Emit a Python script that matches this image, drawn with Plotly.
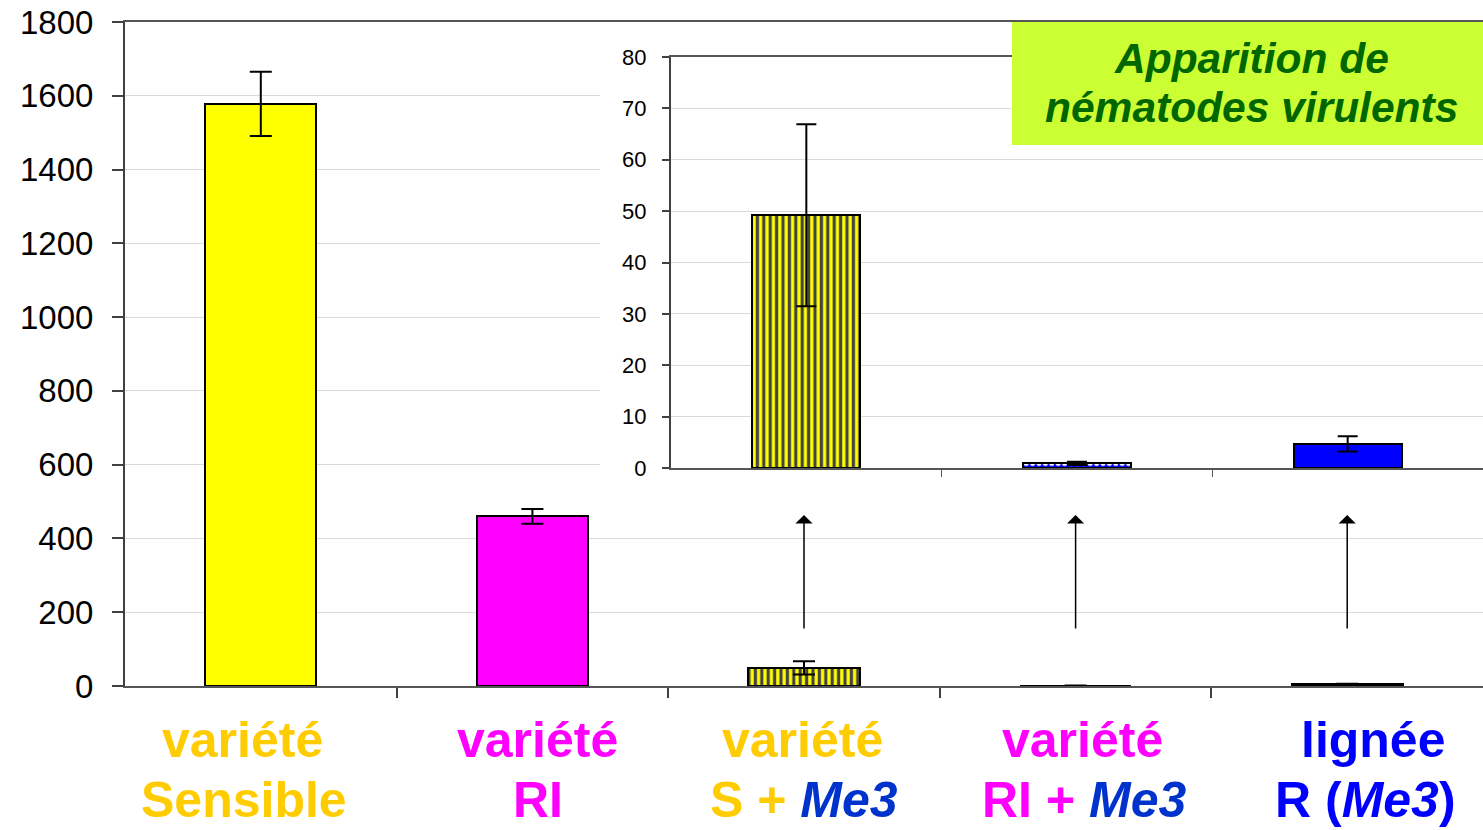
import plotly.graph_objects as go

# ---- data ----
categories = ["variété Sensible", "variété RI", "variété S + Me3", "variété RI + Me3", "lignée R (Me3)"]
values = [1578, 460, 49.2, 0.9, 4.7]
errors = [87, 20, 17.7, 0.3, 1.5]
inset_idx = [2, 3, 4]
main_ticks = [0, 200, 400, 600, 800, 1000, 1200, 1400, 1600, 1800]
inset_ticks = [0, 10, 20, 30, 40, 50, 60, 70, 80]
box_lines = ["Apparition de", "nématodes virulents"]

YEL, MAG, BLU, ME3 = "#ffcc00", "#ff00ff", "#0000ff", "#0033cc"
label_line1 = [
    f"<span style='color:{YEL}'>variété</span>",
    f"<span style='color:{MAG}'>variété</span>",
    f"<span style='color:{YEL}'>variété</span>",
    f"<span style='color:{MAG}'>variété</span>",
    f"<span style='color:{BLU}'>lignée</span>",
]
label_line2 = [
    f"<span style='color:{YEL}'>Sensible</span>",
    f"<span style='color:{MAG}'>RI</span>",
    f"<span style='color:{YEL}'>S + </span><span style='color:{ME3}'><i>Me3</i></span>",
    f"<span style='color:{MAG}'>RI + </span><span style='color:{ME3}'><i>Me3</i></span>",
    f"<span style='color:{BLU}'>R (<i>Me3</i>)</span>",
]
shift1 = [-18, 5, -2, 7, 26]
shift2 = [-17, 6, 0, 8, 18]

bar_color = ["#ffff00", "#ff00ff", "#ffff00", "#0000ff", "#0000ff"]
bar_fg = ["#000000", "#000000", "#0000ff", "#ff00ff", "#000000"]
bar_shape = ["", "", "|", ".", ""]

xs = list(range(len(categories)))

# body margin is removed in the page (post_script), so the figure fills the window
W, H = 1483, 830
L, R, T, B = 125, 0, 22, 144
pw, ph = W - L - R, H - T - B
XMIN, XMAX = -0.5, 4.5
YMAX = 1800

def px(x):
    return (x - L) / pw

def py(y):
    return (H - B - y) / ph

fig = go.Figure()

# white backdrop behind the inset (hides main gridlines there)
bx0 = XMIN + px(600) * (XMAX - XMIN)
by0, by1 = py(482) * YMAX, py(36) * YMAX
fig.add_trace(go.Scatter(
    x=[bx0, XMAX, XMAX, bx0, bx0], y=[by0, by0, by1, by1, by0],
    fill="toself", fillcolor="white", mode="none", line=dict(width=0),
    xaxis="x", yaxis="y", showlegend=False, hoverinfo="skip",
))

pat_size, pat_sol = 6.4, 0.5

# main bars
fig.add_trace(go.Bar(
    x=xs, y=values, width=0.41,
    marker=dict(color=bar_color, line=dict(color="black", width=2),
                pattern=dict(shape=bar_shape, fgcolor=bar_fg, bgcolor=bar_color,
                             size=pat_size, solidity=pat_sol, fgopacity=1)),
    error_y=dict(type="data", array=errors, color="black", thickness=2, width=11),
    xaxis="x", yaxis="y", showlegend=False, hoverinfo="skip",
))

# inset bars
fig.add_trace(go.Bar(
    x=[xs[i] for i in inset_idx], y=[values[i] for i in inset_idx], width=0.40,
    marker=dict(color=[bar_color[i] for i in inset_idx], line=dict(color="black", width=2),
                pattern=dict(shape=[bar_shape[i] for i in inset_idx],
                             fgcolor=[bar_fg[i] for i in inset_idx],
                             bgcolor=[bar_color[i] for i in inset_idx],
                             size=pat_size, solidity=pat_sol, fgopacity=1)),
    error_y=dict(type="data", array=[errors[i] for i in inset_idx], color="black", thickness=2, width=10),
    xaxis="x2", yaxis="y2", showlegend=False, hoverinfo="skip",
))

annotations = []
for i in xs:
    for txt, yy, sh in ((label_line1[i], 740, shift1[i]), (label_line2[i], 800, shift2[i])):
        annotations.append(dict(
            x=xs[i], xref="x", y=py(yy), yref="paper", text=f"<b>{txt}</b>",
            showarrow=False, xshift=sh, xanchor="center", yanchor="middle",
            font=dict(family="Liberation Sans", size=50), align="center",
        ))
for i in inset_idx:
    annotations.append(dict(
        x=xs[i], xref="x", y=py(515), yref="paper", text="",
        showarrow=True, ax=0, ay=115, arrowhead=1, arrowsize=1.9, arrowwidth=1.5,
        arrowcolor="black", standoff=0,
    ))
for txt, yy in zip(box_lines, (58, 108)):
    annotations.append(dict(
        x=px(1251), xref="paper", y=py(yy), yref="paper", xanchor="center", yanchor="middle",
        text=f"<b><i>{txt}</i></b>", showarrow=False,
        font=dict(family="Liberation Sans", size=42.5, color="#006600"), align="center",
    ))

shapes = [
    dict(type="rect", xref="paper", yref="paper", x0=px(1012), x1=1.0,
         y0=py(145), y1=py(22), fillcolor="#ccff33", line=dict(width=0), layer="above"),
]

fig.update_layout(
    width=W, height=H, margin=dict(l=L, r=R, t=T, b=B, autoexpand=False),
    paper_bgcolor="white", plot_bgcolor="white",
    bargap=0, showlegend=False,
    font=dict(family="Liberation Sans", color="black"),
    xaxis=dict(domain=[0, 1], range=[XMIN, XMAX], tickvals=[0.5, 1.5, 2.5, 3.5],
               ticks="outside", ticklen=10, tickcolor="#404040", tickwidth=1.5,
               showticklabels=False, showgrid=False, zeroline=False,
               showline=True, linecolor="#555555", linewidth=2, mirror=True),
    yaxis=dict(domain=[0, 1], range=[0, YMAX], tickvals=main_ticks,
               ticks="outside", ticklen=11, tickcolor="#404040", tickwidth=1.5,
               tickfont=dict(size=33, family="Liberation Sans"), ticklabelstandoff=12,
               ticklabeloverflow="allow",
               showgrid=True, gridcolor="#d9d9d9", gridwidth=1, zeroline=False,
               showline=True, linecolor="#404040", linewidth=2),
    xaxis2=dict(domain=[px(671), 1], range=[1.5, 4.5], anchor="y2",
                tickvals=[2.5, 3.5], ticks="outside", ticklen=7, tickcolor="#555555",
                showticklabels=False, showgrid=False, zeroline=False,
                showline=True, linecolor="#555555", linewidth=2, mirror=True),
    yaxis2=dict(domain=[py(468), py(57)], range=[0, 80], anchor="x2", tickvals=inset_ticks,
                ticks="outside", ticklen=7, tickcolor="#404040", tickwidth=1.5,
                tickfont=dict(size=22, family="Liberation Sans"), ticklabelstandoff=11,
                ticklabeloverflow="allow",
                showgrid=True, gridcolor="#d9d9d9", gridwidth=1, zeroline=False,
                showline=True, linecolor="#404040", linewidth=2),
    annotations=annotations, shapes=shapes,
)

fig.write_html("out.html", config={"displayModeBar": False},
               post_script="document.body.style.margin='0';")
